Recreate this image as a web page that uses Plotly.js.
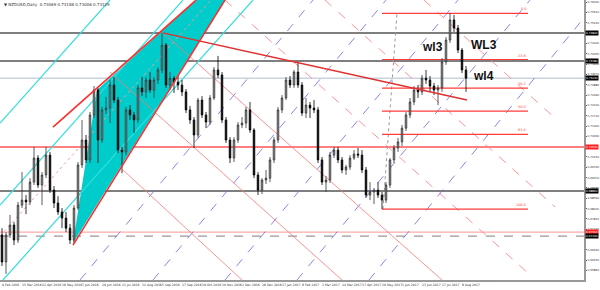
<!DOCTYPE html>
<html><head><meta charset="utf-8">
<script src="https://cdn.plot.ly/plotly-3.0.1.min.js"></script>
<style>html,body{margin:0;padding:0;background:#fff}#chart{width:600px;height:290px}</style>
</head><body><div id="chart"></div>
<script>
// NZDUSD daily, each candle = 4 daily bars
const open  = [0.6720,0.6618,0.6720,0.6758,0.6701,0.6833,0.6852,0.6845,0.6920,0.7011,0.6909,0.6947,0.7022,0.6890,0.6841,0.6807,0.6784,0.6746,0.6701,0.6822,0.6985,0.7079,0.7004,0.7174,0.7268,0.7079,0.7193,0.7200,0.7287,0.7230,0.7041,0.7034,0.7193,0.7174,0.7155,0.7276,0.7261,0.7306,0.7268,0.7306,0.7344,0.7438,0.7287,0.7313,0.7298,0.7287,0.7261,0.7193,0.7155,0.7098,0.7230,0.7174,0.7147,0.7238,0.7344,0.7325,0.7155,0.7079,0.7011,0.7079,0.7136,0.7143,0.7193,0.7117,0.6947,0.6890,0.6928,0.6935,0.7004,0.7079,0.7193,0.7238,0.7306,0.7287,0.7336,0.7287,0.7181,0.7211,0.7200,0.7193,0.7004,0.6920,0.6928,0.7022,0.7041,0.7004,0.6966,0.6977,0.7011,0.7026,0.7022,0.6966,0.6871,0.6883,0.6890,0.6871,0.6852,0.6909,0.7004,0.7049,0.7072,0.7124,0.7174,0.7223,0.7268,0.7261,0.7313,0.7306,0.7283,0.7268,0.7276,0.7374,0.7457,0.7533,0.7502,0.7419,0.7344];
const high  = [0.6746,0.6731,0.6796,0.6769,0.6845,0.6958,0.6871,0.6935,0.7053,0.7022,0.6958,0.7053,0.7034,0.6905,0.6867,0.6822,0.6807,0.6762,0.6833,0.6996,0.7155,0.7098,0.7185,0.7283,0.7276,0.7204,0.7242,0.7306,0.7317,0.7242,0.7053,0.7204,0.7211,0.7185,0.7287,0.7317,0.7317,0.7336,0.7317,0.7355,0.7484,0.7446,0.7336,0.7321,0.7321,0.7306,0.7272,0.7208,0.7166,0.7238,0.7245,0.7185,0.7249,0.7355,0.7397,0.7336,0.7166,0.7090,0.7090,0.7147,0.7166,0.7204,0.7223,0.7124,0.6958,0.6935,0.6966,0.7015,0.7090,0.7204,0.7249,0.7317,0.7321,0.7344,0.7374,0.7298,0.7238,0.7223,0.7230,0.7204,0.7015,0.6943,0.7034,0.7053,0.7053,0.7015,0.6985,0.7022,0.7041,0.7049,0.7041,0.6977,0.6920,0.6898,0.6920,0.6883,0.6920,0.7011,0.7060,0.7087,0.7136,0.7185,0.7238,0.7283,0.7287,0.7325,0.7344,0.7321,0.7295,0.7287,0.7389,0.7468,0.7559,0.7552,0.7514,0.7427,0.7359];
const low   = [0.6603,0.6573,0.6709,0.6682,0.6690,0.6822,0.6799,0.6833,0.6909,0.6898,0.6833,0.6935,0.6879,0.6822,0.6796,0.6746,0.6731,0.6686,0.6690,0.6815,0.6973,0.6992,0.6992,0.7162,0.6992,0.7068,0.7177,0.7143,0.7219,0.7030,0.6954,0.7022,0.7155,0.7106,0.7143,0.7245,0.7238,0.7257,0.7238,0.7291,0.7332,0.7276,0.7268,0.7257,0.7268,0.7245,0.7181,0.7140,0.7049,0.7087,0.7162,0.7124,0.7136,0.7230,0.7313,0.7143,0.7068,0.6992,0.6996,0.7068,0.7124,0.7124,0.7106,0.6935,0.6871,0.6875,0.6913,0.6920,0.6992,0.7068,0.7181,0.7230,0.7276,0.7276,0.7276,0.7170,0.7162,0.7162,0.7181,0.6992,0.6909,0.6883,0.6917,0.7011,0.6992,0.6954,0.6947,0.6966,0.7004,0.7011,0.6954,0.6860,0.6852,0.6837,0.6860,0.6818,0.6841,0.6898,0.6992,0.7034,0.7056,0.7113,0.7162,0.7211,0.7238,0.7249,0.7291,0.7261,0.7249,0.7211,0.7261,0.7363,0.7446,0.7487,0.7408,0.7332,0.7261];
const close = [0.6618,0.6720,0.6758,0.6701,0.6833,0.6852,0.6845,0.6920,0.7011,0.6909,0.6947,0.7022,0.6890,0.6841,0.6807,0.6784,0.6746,0.6701,0.6822,0.6985,0.7079,0.7004,0.7174,0.7268,0.7079,0.7193,0.7200,0.7287,0.7230,0.7041,0.7034,0.7193,0.7174,0.7155,0.7276,0.7261,0.7306,0.7268,0.7306,0.7344,0.7438,0.7287,0.7313,0.7298,0.7287,0.7261,0.7193,0.7155,0.7098,0.7230,0.7174,0.7147,0.7238,0.7344,0.7325,0.7155,0.7079,0.7011,0.7079,0.7136,0.7143,0.7193,0.7117,0.6947,0.6890,0.6928,0.6935,0.7004,0.7079,0.7193,0.7238,0.7306,0.7287,0.7336,0.7287,0.7181,0.7211,0.7200,0.7193,0.7004,0.6920,0.6928,0.7022,0.7041,0.7004,0.6966,0.6977,0.7011,0.7026,0.7022,0.6966,0.6871,0.6883,0.6890,0.6871,0.6852,0.6909,0.7004,0.7049,0.7072,0.7124,0.7174,0.7223,0.7268,0.7261,0.7313,0.7306,0.7283,0.7268,0.7276,0.7374,0.7457,0.7533,0.7502,0.7419,0.7344,0.7313];

// date labels (bar index of each label)
const dateBars   = [0,20,40,60,80,100,120,140,160,180,200,220,240,260,280,300,320,340,360,380,400,420,440,460];
const dateLabels = ["9 Feb 2016","15 Mar 2016","22 Apr 2016","16 May 2016","7 Jun 2016","29 Jun 2016","21 Jul 2016","12 Aug 2016","5 Sep 2016","27 Sep 2016","19 Oct 2016","10 Nov 2016","2 Dec 2016","26 Dec 2016","17 Jan 2017","8 Feb 2017","2 Mar 2017","24 Mar 2017","17 Apr 2017","10 May 2017","1 Jun 2017","23 Jun 2017","17 Jul 2017","8 Aug 2017"];

// price scale ticks
const priceTicks = [0.7600,0.7561,0.7522,0.7444,0.7405,0.7366,0.7327,0.7288,0.7249,0.7210,0.7171,0.7132,0.7093,0.7015,0.6976,0.6937,0.6898,0.6859,0.6820,0.6781,0.6742,0.6664,0.6625,0.6586];

// horizontal levels
const levels      = [0.7484,0.7378,0.7313,0.7053,0.6886,0.6731,0.6716];
const levelColors = ["#555","#555","#c8d4e0","#ff8080","#555","#ffaaaa","#999"];
const levelDash   = ["solid","solid","solid","solid","solid","solid","dash"];
const levelWidth  = [1.5,1.5,1.5,2,1.5,1.2,1.2];
const levelBox    = ["#000","#000","#000","#ff2020","#000","#ff2020","#000"];

// Fibonacci retracement
const fibHigh = 0.7558, fibLow = 0.6818;
const fibRatios = [0,23.6,38.2,50,61.8,100];
const fibFromBar = 382, fibToBar = 528;

// trendlines [x0,y0,x1,y1] (bar, price)
const cyanLines   = [[0,0.7143,110,0.7608],[0,0.6833,183,0.7608],[3,0.6550,253,0.7608]];
const midDotted   = [[0,0.6716,211,0.7608]];
const redLines    = [[53,0.7128,196,0.7608],[73,0.6682,225,0.7608]];
const darkRedLine = [[163,0.7484,467,0.7230]];
const salmonLines = [[123,0.6966,242,0.6550],[110,0.7336,342,0.6550],[163,0.7484,442,0.6550]];
const pinkDashed  = [[424,0.7608,555,0.7162],[325,0.7608,555,0.6826],[225,0.7608,527,0.6580]];
const purpleDashed= [[80,0.6550,313,0.7608],[153,0.6550,386,0.7608],[225,0.6550,458,0.7608],[297,0.6550,530,0.7608],[369,0.6550,584,0.7541]];
const grayDotted  = [[383,0.6818,397,0.7559]];
const cyanPoly    = [[73,0.6690],[97,0.7268],[196,0.7608],[225,0.7608]];

const waveLabels = [{t:"wl3",x:432,y:0.7430},{t:"WL3",x:484,y:0.7438},{t:"wl4",x:483,y:0.7321}];

const xs = open.map((_, i) => 2 + 4 * i);
const yMin = 0.6550, yMax = 0.76083;

const shapes = [];
shapes.push({type:'path', layer:'below', xref:'x', yref:'y',
  path: 'M ' + cyanPoly.map(p => p[0] + ',' + p[1]).join(' L ') + ' Z',
  fillcolor:'#00cccc', line:{width:0}});
function addLines(arr, color, width, dash, layer){
  arr.forEach(l => shapes.push({type:'line', xref:'x', yref:'y', layer: layer||'below',
    x0:l[0], y0:l[1], x1:l[2], y1:l[3], line:{color, width, dash}}));
}
levels.forEach((v,i) => shapes.push({type:'line', xref:'paper', yref:'y', layer:'below',
  x0:0, x1:1, y0:v, y1:v, line:{color:levelColors[i], width:levelWidth[i], dash:levelDash[i]}}));
addLines(purpleDashed, 'rgba(120,110,230,0.85)', 1, 'dash');
addLines(salmonLines, 'rgba(255,120,120,0.8)', 1, 'solid');
addLines(pinkDashed, 'rgba(255,130,130,0.85)', 1, 'dash');
addLines(cyanLines, '#33dddd', 1.2, 'solid');
addLines(midDotted, 'rgba(255,150,150,0.9)', 1, 'dot');
addLines(grayDotted, '#999', 1, 'dot');
addLines(redLines, '#ff2a2a', 1.5, 'solid', 'above');
addLines(darkRedLine, '#e03030', 1.5, 'solid', 'above');
fibRatios.forEach(r => {
  const v = fibHigh - r / 100 * (fibHigh - fibLow);
  shapes.push({type:'line', xref:'x', yref:'y', layer:'below', x0:fibFromBar, x1:fibToBar, y0:v, y1:v,
    line:{color:'#ff3b3b', width:1.2}});
});

const ann = [];
ann.push({xref:'paper', yref:'paper', x:0.004, y:1, xanchor:'left', yanchor:'top', showarrow:false,
  text:'▼ NZDUSD,Daily  0.73069 0.73188 0.73006 0.73129', font:{size:4, color:'#333'}});
dateBars.forEach((b,i) => ann.push({xref:'x', yref:'paper', x:b, y:-0.004, xanchor:'left', yanchor:'top',
  showarrow:false, text:dateLabels[i], font:{size:3.1, color:'#333'}}));
levels.forEach((v,i) => ann.push({xref:'paper', yref:'y', x:1.002, y:v, xanchor:'left', yanchor:'middle',
  showarrow:false, text:v.toFixed(5), bgcolor:levelBox[i], borderpad:0, font:{size:2.8, color:'#fff'}}));
fibRatios.forEach(r => {
  const v = fibHigh - r / 100 * (fibHigh - fibLow);
  ann.push({xref:'x', yref:'y', x:fibToBar, y:v, xanchor:'right', yanchor:'bottom', showarrow:false,
    text:r.toFixed(1), font:{size:3.4, color:'#ff3b3b'}});
});
waveLabels.forEach(w => ann.push({xref:'x', yref:'y', x:w.x, y:w.y, showarrow:false,
  text:'<b>' + w.t + '</b>', font:{size:12, color:'#111', family:'Liberation Sans, Arial, sans-serif'}}));

const trace = {type:'candlestick', x:xs, open, high, low, close,
  increasing:{line:{color:'#333', width:0.8}, fillcolor:'#999999'},
  decreasing:{line:{color:'#000', width:0.8}, fillcolor:'#000000'},
  whiskerwidth:0, hoverinfo:'skip'};

const layout = {
  width:600, height:290, margin:{l:0, r:16, t:0, b:10},
  paper_bgcolor:'#fff', plot_bgcolor:'#fff', showlegend:false, boxgap:0.45,
  font:{family:'DejaVu Sans, sans-serif', size:4, color:'#333'},
  xaxis:{range:[0,584], showticklabels:false, showgrid:false, zeroline:false,
    showline:true, linecolor:'#999', linewidth:2, rangeslider:{visible:false}, fixedrange:true},
  yaxis:{range:[yMin,yMax], side:'right', showgrid:false, zeroline:false, showline:true,
    linecolor:'#999', linewidth:2, tickmode:'array', tickvals:priceTicks, ticktext:priceTicks.map(v=>v.toFixed(5)),
    ticks:'outside', ticklen:1, tickcolor:'#666', ticklabelstandoff:0, tickfont:{size:2.8, color:'#333'}},
  shapes, annotations:ann
};
Plotly.newPlot('chart', [trace], layout, {displayModeBar:false, staticPlot:true});
</script></body></html>
